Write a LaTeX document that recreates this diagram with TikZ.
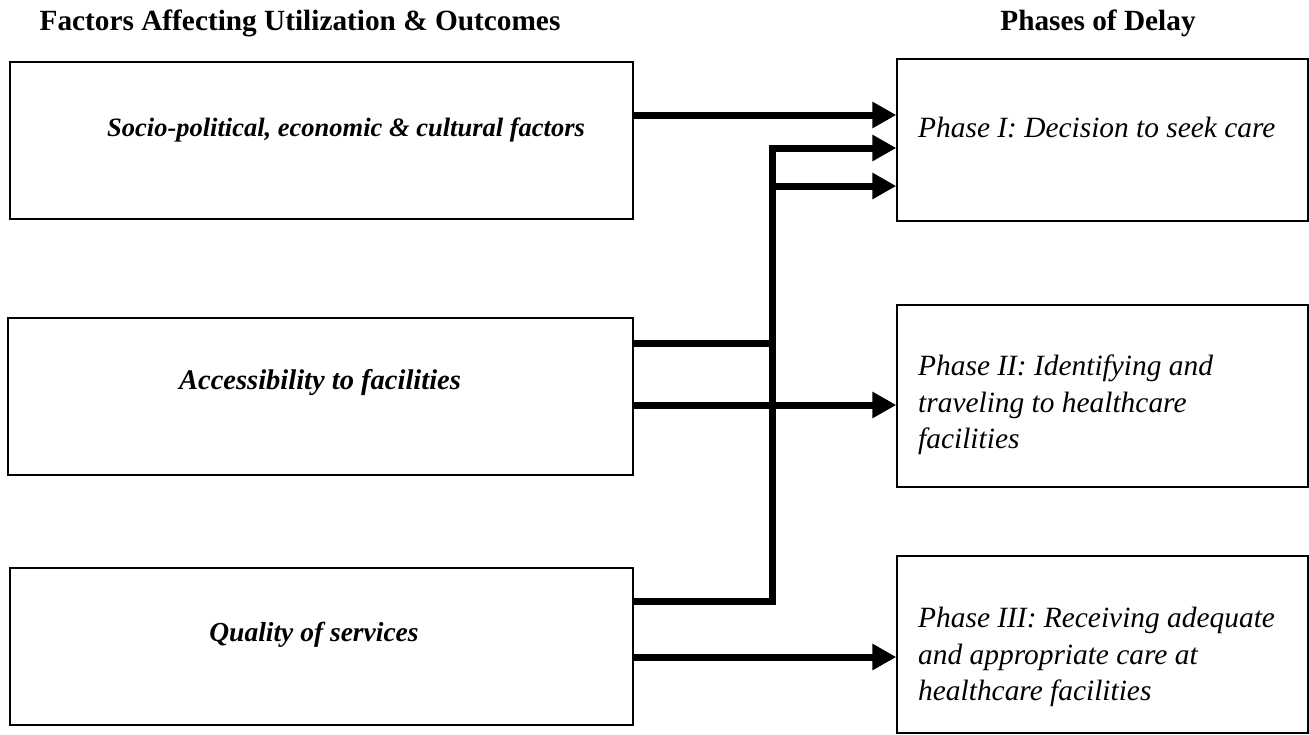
\documentclass[tikz,border=0pt]{standalone}
\usepackage{fontspec}
\setmainfont{Liberation Serif}
\usetikzlibrary{arrows.meta}
\begin{document}
\begin{tikzpicture}[x=1pt,y=-1pt,
  box/.style={draw, line width=1.4pt, inner sep=0pt},
  head/.style={font=\fontsize{29.3}{34}\selectfont\bfseries},
  ltext/.style={font=\fontsize{26.5}{32}\selectfont\bfseries\itshape},
  rtext/.style={font=\fontsize{29.4}{36.5}\selectfont\itshape, align=left, anchor=west, inner sep=0pt},
  arr/.style={line width=7pt, -{Triangle[length=24pt,width=25pt]}}]
\useasboundingbox (0,0) rectangle (1309,734);
% headings
\node[head] (h1) at (300,23) {Factors Affecting Utilization \& Outcomes};
\node[head] (h2) at (1098,23) {Phases of Delay};
% left boxes
\node[box, minimum width=623pt, minimum height=157pt] (L1) at (321.5,140.5) {};
\node[box, minimum width=625pt, minimum height=157pt] (L2) at (320.5,396.5) {};
\node[box, minimum width=623pt, minimum height=157pt] (L3) at (321.5,646.5) {};
\node[ltext] (T1) at (346,130) {Socio-political, economic \& cultural factors};
\node[ltext, font=\fontsize{28.5}{32}\selectfont\bfseries\itshape] (T2) at (320,383) {Accessibility to facilities};
\node[ltext, font=\fontsize{27.5}{32}\selectfont\bfseries\itshape] (T3) at (314,635) {Quality of services};
% right boxes
\node[box, minimum width=411pt, minimum height=162pt] (R1) at (1102.5,140) {};
\node[box, minimum width=411pt, minimum height=182pt] (R2) at (1102.5,396) {};
\node[box, minimum width=411pt, minimum height=177pt] (R3) at (1102.5,644.5) {};
\node[rtext] (U1) at (918,128) {Phase I: Decision to seek care};
\node[rtext] (U2) at (918,405) {Phase II: Identifying and\\traveling to healthcare\\facilities};
\node[rtext] (U3) at (918,657) {Phase III: Receiving adequate\\and appropriate care at\\healthcare facilities};
% bus
\coordinate (bus) at (772,0);
% connectors
\draw[arr] ([yshift=25.5pt]L1.east) coordinate (s1) -- (s1 -| R1.west);
\coordinate (t1) at ([yshift=-8pt]R1.west);
\coordinate (t2) at ([yshift=-46pt]R1.west);
\draw[arr] ([yshift=45.5pt]L3.east) coordinate (s3) -- (s3 -| bus) -- (t1 -| bus) -- (t1);
\draw[arr] ([yshift=53.5pt]L2.east) coordinate (s2) -- (s2 -| bus) -- (t2 -| bus) -- (t2);
\draw[arr] ([yshift=-8.5pt]L2.east) coordinate (s4) -- (s4 -| R2.west);
\draw[arr] ([yshift=-10.5pt]L3.east) coordinate (s5) -- (s5 -| R3.west);
\end{tikzpicture}
\end{document}
